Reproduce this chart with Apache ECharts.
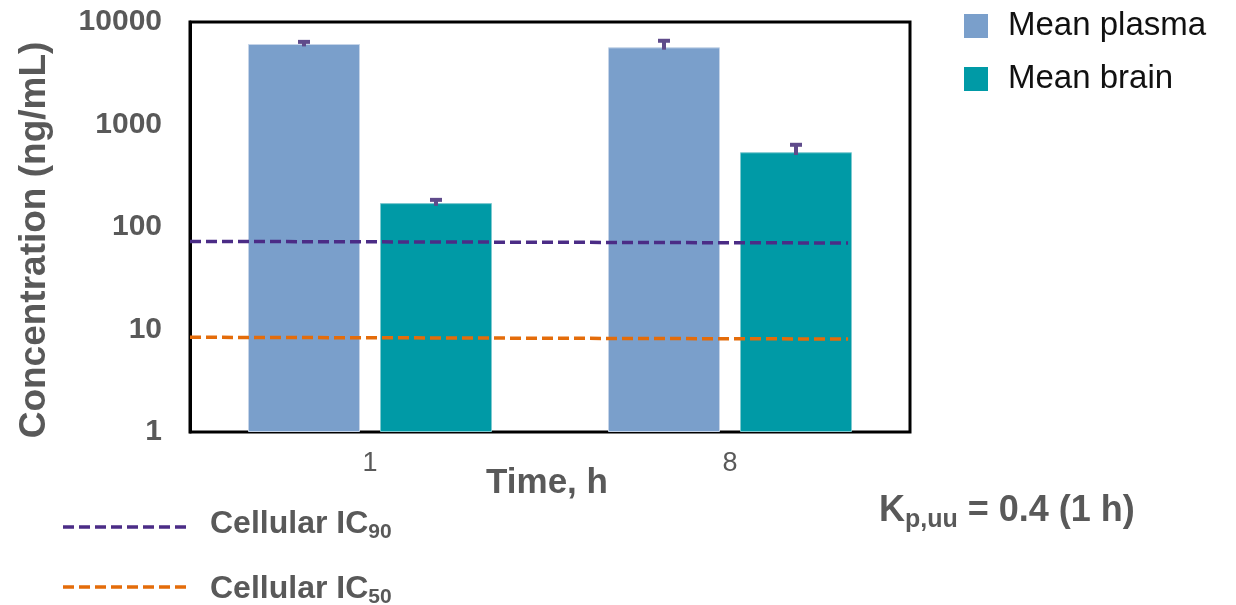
<!DOCTYPE html>
<html><head><meta charset="utf-8">
<script src="https://cdn.jsdelivr.net/npm/echarts@6/dist/echarts.min.js"></script>
<style>html,body{margin:0;padding:0;background:#fff}#c{width:1236px;height:605px}</style>
</head><body><div id="c"></div>
<script>
var categories = ['1', '8'];
var plasmaMean = [6100, 5660];
var plasmaLow = [5780, 5370];
var plasmaHigh = [6400, 6560];
var brainMean = [171, 536];
var brainLow = [161, 504];
var brainHigh = [184, 634];
var yTicks = [1, 10, 100, 1000, 10000];
var refX = [0, 0.914];
var ic90 = [72.4, 69.8];
var ic50 = [8.4, 8.07];

var FONT = '"Liberation Sans", Arial, sans-serif';
var GREY = '#595959';
var BAR_W = 112, BAR_GAP = 20;

function errItem(offsetSign, lows, highs) {
  return function (params, api) {
    var i = api.value(0);
    var lo = api.coord([i, lows[i]]);
    var hi = api.coord([i, highs[i]]);
    var x = lo[0] + offsetSign * (BAR_W / 2 + BAR_GAP / 2);
    return {type: 'group', children: [
      {type: 'line', shape: {x1: x, y1: lo[1], x2: x, y2: hi[1]}, style: {stroke: '#5F4B8B', lineWidth: 4}},
      {type: 'line', shape: {x1: x - 6, y1: hi[1], x2: x + 6, y2: hi[1]}, style: {stroke: '#5F4B8B', lineWidth: 4}}
    ]};
  };
}

var chart = echarts.init(document.getElementById('c'), null, {renderer: 'canvas'});
chart.setOption({
  animation: false,
  textStyle: {fontFamily: FONT},
  grid: {left: 190, right: 326, top: 22, bottom: 173, show: true, borderColor: '#000', borderWidth: 3, backgroundColor: 'transparent'},
  legend: {
    data: ['Mean plasma', 'Mean brain'],
    orient: 'vertical', left: 959, top: 4, itemWidth: 24, itemHeight: 24, itemGap: 19,
    itemStyle: {borderWidth: 0},
    textStyle: {fontSize: 33, lineHeight: 34, color: '#111', fontFamily: FONT, padding: [0, 0, 0, 15]},
    icon: 'rect'
  },
  xAxis: [{
    type: 'category', data: categories,
    axisLine: {show: false}, axisTick: {show: false},
    axisLabel: {fontSize: 27, color: GREY, margin: 18, fontFamily: FONT}
  }, {
    type: 'value', min: 0, max: 1, show: false
  }],
  yAxis: {
    type: 'log', logBase: 10, min: 1, max: 10000,
    axisLine: {show: true, lineStyle: {color: '#000', width: 3}},
    axisTick: {show: false}, splitLine: {show: false}, minorTick: {show: false},
    axisLabel: {fontSize: 30, fontWeight: 'bold', color: GREY, margin: 28, fontFamily: FONT,
      formatter: function (v) { return yTicks.indexOf(Math.round(v)) >= 0 ? String(Math.round(v)) : ''; }}
  },
  series: [
    {name: 'Mean plasma', type: 'bar', data: plasmaMean, barWidth: BAR_W, barGap: (BAR_GAP / BAR_W * 100) + '%',
      itemStyle: {color: '#7A9FCB', borderColor: '#C5D4E8', borderWidth: 1}},
    {name: 'Mean brain', type: 'bar', data: brainMean, barWidth: BAR_W,
      itemStyle: {color: '#009AA6', borderColor: '#7FCAD0', borderWidth: 1}},
    {type: 'custom', renderItem: errItem(-1, plasmaLow, plasmaHigh), data: categories.map(function (c, i) { return [i]; }), z: 5},
    {type: 'custom', renderItem: errItem(1, brainLow, brainHigh), data: categories.map(function (c, i) { return [i]; }), z: 5},
    {name: 'IC90', type: 'line', xAxisIndex: 1, data: refX.map(function (x, i) { return [x, ic90[i]]; }),
      symbol: 'none', lineStyle: {color: '#4B2C86', width: 3.5, type: [11, 5]}, z: 6},
    {name: 'IC50', type: 'line', xAxisIndex: 1, data: refX.map(function (x, i) { return [x, ic50[i]]; }),
      symbol: 'none', lineStyle: {color: '#E46C0A', width: 3.5, type: [11, 5]}, z: 6}
  ],
  graphic: [
    {type: 'text', x: 35, y: 240, rotation: Math.PI / 2, style: {text: 'Concentration (ng/mL)', font: 'bold 37px ' + FONT, fill: GREY, align: 'center', verticalAlign: 'middle'}},
    {type: 'text', x: 547, y: 483, style: {text: 'Time, h', font: 'bold 35px ' + FONT, fill: GREY, align: 'center', verticalAlign: 'middle'}},
    {type: 'line', shape: {x1: 63, y1: 527, x2: 188, y2: 527}, style: {stroke: '#4B2C86', lineWidth: 3.5, lineDash: [11, 5]}},
    {type: 'line', shape: {x1: 63, y1: 587, x2: 188, y2: 587}, style: {stroke: '#E46C0A', lineWidth: 3.5, lineDash: [11, 5]}},
    {type: 'text', x: 210, y: 524, style: {text: 'Cellular IC{s|90}', font: 'bold 32px ' + FONT, fill: GREY, verticalAlign: 'middle',
      rich: {s: {fontSize: 21, fontWeight: 'bold', fill: GREY, fontFamily: FONT, padding: [17, 0, 0, 0]}}}},
    {type: 'text', x: 210, y: 589, style: {text: 'Cellular IC{s|50}', font: 'bold 32px ' + FONT, fill: GREY, verticalAlign: 'middle',
      rich: {s: {fontSize: 21, fontWeight: 'bold', fill: GREY, fontFamily: FONT, padding: [17, 0, 0, 0]}}}},
    {type: 'text', x: 879, y: 511, style: {text: 'K{s|p,uu} = 0.4 (1 h)', font: 'bold 36px ' + FONT, fill: GREY, verticalAlign: 'middle',
      rich: {s: {fontSize: 25, fontWeight: 'bold', fill: GREY, fontFamily: FONT, padding: [18, 0, 0, 0]}}}}
  ]
});
</script></body></html>
